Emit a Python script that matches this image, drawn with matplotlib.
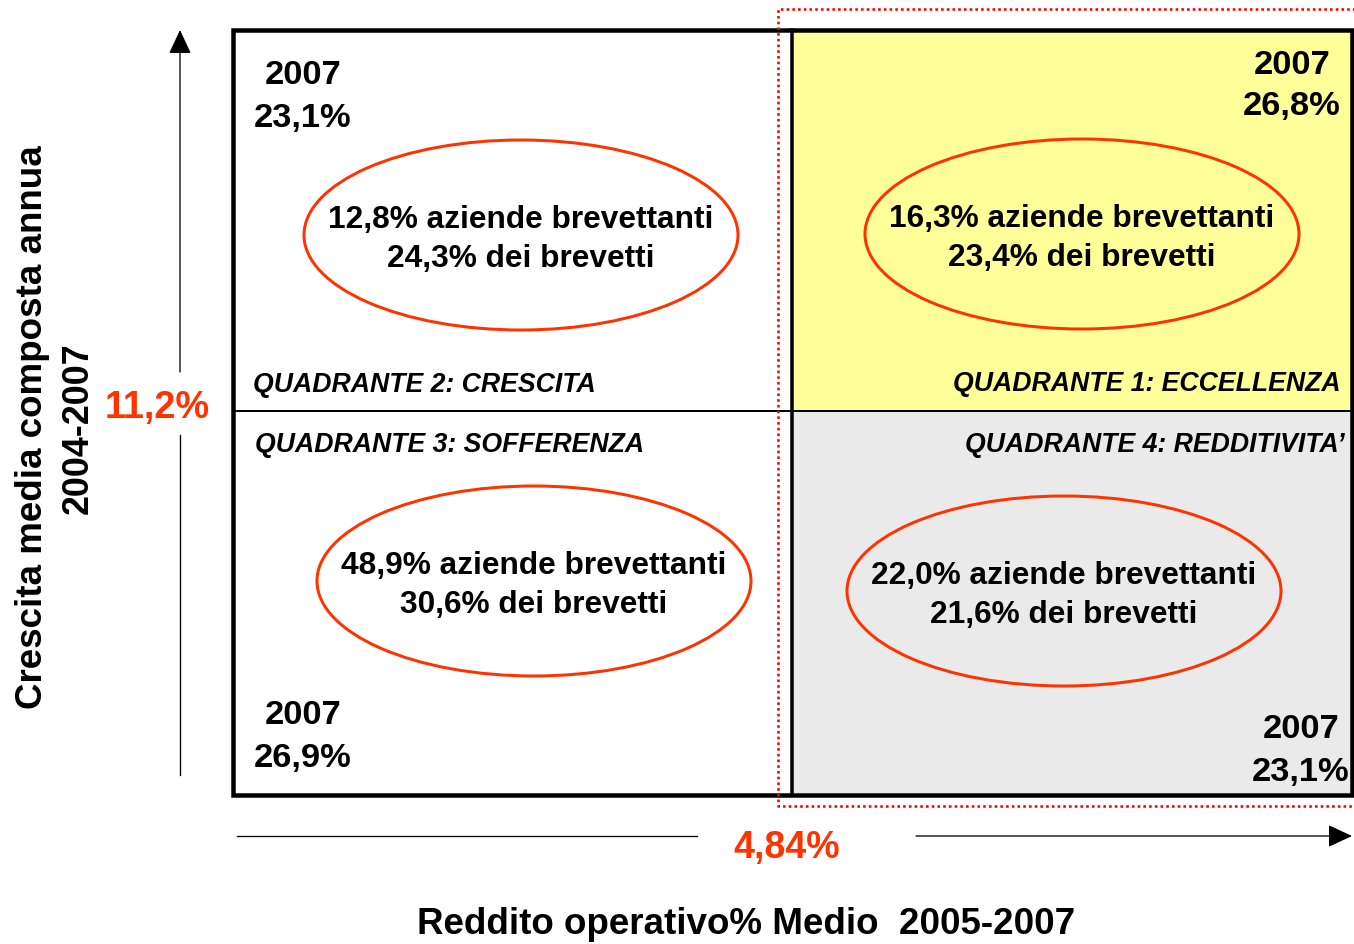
import matplotlib
matplotlib.use("Agg")
import matplotlib.pyplot as plt
from matplotlib.patches import Ellipse, Rectangle

plt.rcParams['font.family'] = ['Liberation Sans', 'DejaVu Sans']

# ---- data ----
quadrant_labels = ["QUADRANTE 1: ECCELLENZA", "QUADRANTE 2: CRESCITA",
                   "QUADRANTE 3: SOFFERENZA", "QUADRANTE 4: REDDITIVITA’"]
share_firms = ["16,3%", "12,8%", "48,9%", "22,0%"]
share_patents = ["23,4%", "24,3%", "30,6%", "21,6%"]
year = "2007"
value_2007 = ["26,8%", "23,1%", "26,9%", "23,1%"]
x_threshold = "4,84%"
y_threshold = "11,2%"
x_label = "Reddito operativo% Medio  2005-2007"
y_label = ["Crescita media composta annua", "2004-2007"]

W, H = 1354, 944
fig = plt.figure(figsize=(W / 100, H / 100), dpi=100)
ax = fig.add_axes([0, 0, 1, 1])
ax.set_xlim(0, W)
ax.set_ylim(H, 0)
ax.axis('off')

px = 0.72  # points per pixel
L, R, T, B = 233, 1352, 30, 795
XM, YM = 792, 411
red = '#FF3300'
dy = 3  # baseline correction for centred text

# fills
ax.add_patch(Rectangle((XM, T), R - XM, YM - T, facecolor='#FFFF99', edgecolor='none', zorder=1))
ax.add_patch(Rectangle((XM, YM), R - XM, B - YM, facecolor='#EAEAEA', edgecolor='none', zorder=1))

# dividers
ax.plot([L, R], [YM, YM], color='black', lw=2 * px, zorder=3)
ax.plot([XM, XM], [T, B], color='black', lw=3.5 * px, zorder=3)
# outer box
ax.add_patch(Rectangle((L, T), R - L, B - T, facecolor='none', edgecolor='black', lw=4.5 * px, zorder=4))

# red dotted rectangle
ax.plot([1360, 778, 778, 1360], [9, 9, 806, 806], color='#FF0000', lw=2.6 * px,
        linestyle=(0, (1, 1.2)), zorder=5, solid_capstyle='butt')

# ellipses and texts (order: Q1, Q2, Q3, Q4)
centers = [(1082, 234), (521, 235), (534, 581), (1064, 591)]
for (cx, cy), f, p in zip(centers, share_firms, share_patents):
    ax.add_patch(Ellipse((cx, cy), 434, 190, facecolor='none', edgecolor=red, lw=3 * px, zorder=6))
    ax.text(cx, cy - 18 + dy, f"{f} aziende brevettanti", ha='center', va='center',
            fontsize=22.8, fontweight='bold', zorder=7)
    ax.text(cx, cy + 21 + dy, f"{p} dei brevetti", ha='center', va='center',
            fontsize=22.8, fontweight='bold', zorder=7)

# 2007 values
vpos = [(1292, 62), (303, 73), (303, 713), (1301, 727)]
for (vx, vy), v in zip(vpos, value_2007):
    ax.text(vx, vy + dy, year, ha='center', va='center', fontsize=24.8, fontweight='bold', zorder=7)
    ax.text(vx, vy + 42 + dy, v, ha='center', va='center', fontsize=24.8, fontweight='bold', zorder=7)

# quadrant labels
qpos = [(1341, 382, 'right'), (253, 383, 'left'), (255, 443, 'left'), (1345, 443, 'right')]
for (qx, qy, ha), q in zip(qpos, quadrant_labels):
    ax.text(qx, qy + 2, q, ha=ha, va='center', fontsize=19.2, fontweight='bold',
            fontstyle='italic', zorder=7)

# arrows
astyle = dict(arrowstyle='-|>,head_length=0.75,head_width=0.35', color='black', lw=1.3 * px,
              shrinkA=0, shrinkB=0, mutation_scale=20)
ax.plot([180, 180], [775, 435], color='black', lw=1.3 * px)
ax.annotate('', xy=(180, 30), xytext=(180, 372), arrowprops=astyle)
ax.plot([237, 697], [836, 836], color='black', lw=1.3 * px)
ax.annotate('', xy=(1352, 836), xytext=(916, 836), arrowprops=astyle)

# thresholds
ax.text(157, 405 + dy, y_threshold, ha='center', va='center', fontsize=27.3, fontweight='bold', color=red)
ax.text(787, 845 + dy, x_threshold, ha='center', va='center', fontsize=27, fontweight='bold', color=red)

# axis labels
ax.text(746, 922 + dy, x_label, ha='center', va='center', fontsize=26.5, fontweight='bold')
ax.text(30 + dy, 427, y_label[0], ha='center', va='center', fontsize=26.5, fontweight='bold', rotation=90)
ax.text(75 + dy, 428, y_label[1], ha='center', va='center', fontsize=25.8, fontweight='bold', rotation=90)

fig.savefig('out.png', dpi=100)
